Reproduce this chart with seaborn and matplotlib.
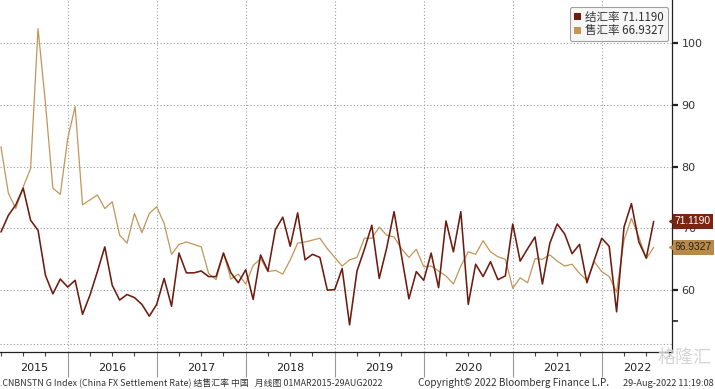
import numpy as np
import pandas as pd
import matplotlib
matplotlib.use("Agg")
import matplotlib.pyplot as plt
import matplotlib.transforms as mtrans
from matplotlib.patches import Patch
import seaborn as sns

# ---------------- data ----------------
months = pd.date_range("2015-04-01", "2022-08-01", freq="MS")
settle_rate = [69.4, 72.1, 73.8, 76.5, 71.3, 69.7, 62.4, 59.4, 61.8,
               60.5, 61.6, 56.1, 59.2, 63.0, 67.0, 60.8, 58.4, 59.3, 58.8, 57.7, 55.8,
               57.7, 61.9, 57.4, 66.0, 62.8, 62.8, 63.1, 62.2, 62.2, 66.0, 62.8, 61.2,
               63.3, 58.5, 65.7, 63.1, 69.8, 71.8, 67.1, 72.5, 64.9, 65.8, 65.3, 60.0,
               60.1, 63.5, 54.4, 63.1, 66.6, 70.5, 61.9, 66.8, 72.7, 65.6, 58.6, 63.0,
               61.6, 66.0, 60.4, 71.2, 66.2, 72.7, 57.7, 64.2, 62.2, 64.6, 61.7, 62.3,
               70.7, 64.7, 66.7, 68.6, 61.0, 67.6, 70.7, 69.1, 65.9, 67.4, 61.2, 64.9,
               68.4, 67.1, 56.5, 70.2, 74.0, 67.8, 65.2, 71.119]
sale_rate = [83.2, 75.7, 73.2, 76.7, 79.7, 102.3, 90.2, 76.5, 75.5,
             84.5, 89.7, 73.8, 74.6, 75.4, 73.2, 74.3, 68.9, 67.6, 72.4, 69.3, 72.4,
             73.5, 70.8, 65.8, 67.4, 67.8, 67.4, 67.0, 62.7, 61.7, 66.0, 61.8, 62.6,
             61.0, 64.0, 65.1, 63.0, 63.2, 62.6, 64.9, 67.6, 67.8, 68.1, 68.4, 66.7,
             65.3, 63.9, 64.9, 65.3, 68.4, 68.4, 70.2, 68.9, 68.6, 66.7, 65.3, 66.6,
             63.8, 63.9, 63.1, 62.3, 61.0, 63.9, 66.2, 65.8, 68.0, 66.2, 65.4, 65.0,
             60.3, 62.0, 61.2, 65.1, 65.0, 65.7, 64.7, 63.9, 64.2, 62.7, 61.6, 64.6,
             63.0, 62.2, 59.7, 68.1, 71.6, 68.6, 65.1, 66.9327]
series_names = ["结汇率", "售汇率"]
last_labels = ["71.1190", "66.9327"]
years = list(range(2015, 2023))
yticks = [60, 70, 80, 90, 100]
footer_left = ".CNBNSTN G Index (China FX Settlement Rate) 结售汇率 中国   月线图 01MAR2015-29AUG2022"
footer_mid = "Copyright© 2022 Bloomberg Finance L.P."
footer_right = "29-Aug-2022 11:19:08"

# ---------------- style ----------------
brown = "#6e1c10"
tan = "#c39558"
sns.set_theme(style="white")
plt.rcParams["font.family"] = ["Noto Sans CJK SC", "DejaVu Sans"]

W, H = 715, 389
fig = plt.figure(figsize=(W / 100, H / 100), dpi=100)
ax = fig.add_axes([0, (H - 352) / H, 672 / W, 352 / H])

t = [(d.year - 2015) * 12 + d.month - 4 for d in months]
df = pd.DataFrame({"t": t, "settle": settle_rate, "sale": sale_rate})

sns.lineplot(data=df, x="t", y="sale", ax=ax, color=tan, linewidth=0.9)
sns.lineplot(data=df, x="t", y="settle", ax=ax, color=brown, linewidth=1.15)

xmin, xmax = -0.128, 90.47
ax.set_xlim(xmin, xmax)
ax.set_ylim(50, 106.93)
ax.set_xlabel("")
ax.set_ylabel("")

# grid
jan_pos = [(y - 2015) * 12 - 3 for y in years[1:]]
for yv in yticks:
    ax.axhline(yv, color="#9a9a9a", lw=0.8, ls=(0, (1, 2)), zorder=0)
for xp in jan_pos:
    ax.axvline(xp, color="#9a9a9a", lw=0.8, ls=(0, (1, 2)), zorder=0)
ax.axhline(51.3, color="#9a9a9a", lw=0.8, ls=(0, (1, 2)), zorder=0)

# spines
for s in ["left", "top"]:
    ax.spines[s].set_visible(False)
for s in ["right", "bottom"]:
    ax.spines[s].set_color("#222222")
    ax.spines[s].set_linewidth(0.9)

# y axis on right
ax.yaxis.tick_right()
ax.set_yticks(yticks)
ax.set_yticklabels([str(v) for v in yticks], fontsize=8, color="#333333",
                   family="DejaVu Sans")
ax.set_yticks([55], minor=True)
ax.tick_params(axis="y", which="major", direction="out", length=4, width=1.6,
               color="#222222", pad=3, right=True, left=False)
ax.tick_params(axis="y", which="minor", direction="out", length=4, width=1.2,
               color="#222222", right=True, left=False)

# x axis ticks
quarter_pos = [q for q in range(-3, 91) if (q + 3) % 3 == 0 and q not in jan_pos]
ax.set_xticks(jan_pos)
ax.set_xticklabels([])
ax.set_xticks([q for q in quarter_pos if xmin <= q <= xmax], minor=True)
ax.tick_params(axis="x", which="major", direction="out", length=18, width=0.8,
               color="#999999", bottom=True)
ax.tick_params(axis="x", which="minor", direction="out", length=3, width=0.8,
               color="#444444", bottom=True)

# year labels centred on visible span
bx = mtrans.blended_transform_factory(ax.transData, ax.transAxes)
for y in years:
    start = max(xmin, (y - 2015) * 12 - 3)
    end = min(xmax, (y - 2014) * 12 - 3)
    ax.text((start + end) / 2, -0.046, str(y), transform=bx, ha="center",
            va="center", fontsize=8, color="#222222", family="DejaVu Sans")

# last value tags
tag_colors = [("#7a2412", "white"), ("#b8894a", "#222222")]
by = mtrans.blended_transform_factory(ax.transAxes, ax.transData)
for val, lab, (fc, tc) in zip([settle_rate[-1], sale_rate[-1]], last_labels, tag_colors):
    ax.annotate(lab, xy=(1.0, val), xycoords=("axes fraction", "data"),
                xytext=(2.0, 0), textcoords="offset points", ha="left", va="center",
                fontsize=7.4, color=tc, family=["Liberation Sans", "DejaVu Sans"],
                bbox=dict(boxstyle="square,pad=0.22", fc=fc, ec="none"),
                annotation_clip=False, zorder=5)
    ax.plot([1.0], [val], marker="<", markersize=5, color=fc, transform=by,
            clip_on=False, zorder=5)

# legend
handles = [Patch(facecolor=brown, edgecolor="none"), Patch(facecolor=tan, edgecolor="none")]
labels = [f"{n} {v}" for n, v in zip(series_names, last_labels)]
leg = ax.legend(handles, labels, loc="upper right", bbox_to_anchor=(1.003, 0.997),
                fontsize=8.3, handlelength=0.6, handleheight=0.6, handletextpad=0.4,
                labelspacing=0.05, borderpad=0.35, frameon=True, fancybox=True)
leg.get_frame().set_facecolor("#f4f4f4")
leg.get_frame().set_edgecolor("#8a8a8a")
leg.get_frame().set_linewidth(0.8)
for txt in leg.get_texts():
    txt.set_color("#333333")

# footer
foot_font = ["Liberation Sans Narrow", "Noto Sans CJK SC", "DejaVu Sans"]
fig.text(0.0, (H - 383) / H, footer_left, fontsize=6.4, color="#333333",
         ha="left", va="center", family=foot_font)
fig.text(418 / W, (H - 383) / H, footer_mid, fontsize=7.2, color="#333333",
         ha="left", va="center", family=foot_font)
fig.text(0.998, (H - 383) / H, footer_right, fontsize=6.6, color="#333333",
         ha="right", va="center", family=foot_font)
fig.text(0.995, (H - 358) / H, "格隆汇", fontsize=13, color="#d0d0d0",
         ha="right", va="center", family=["Noto Sans CJK SC"], alpha=0.9)

fig.savefig("out.png", dpi=100)
